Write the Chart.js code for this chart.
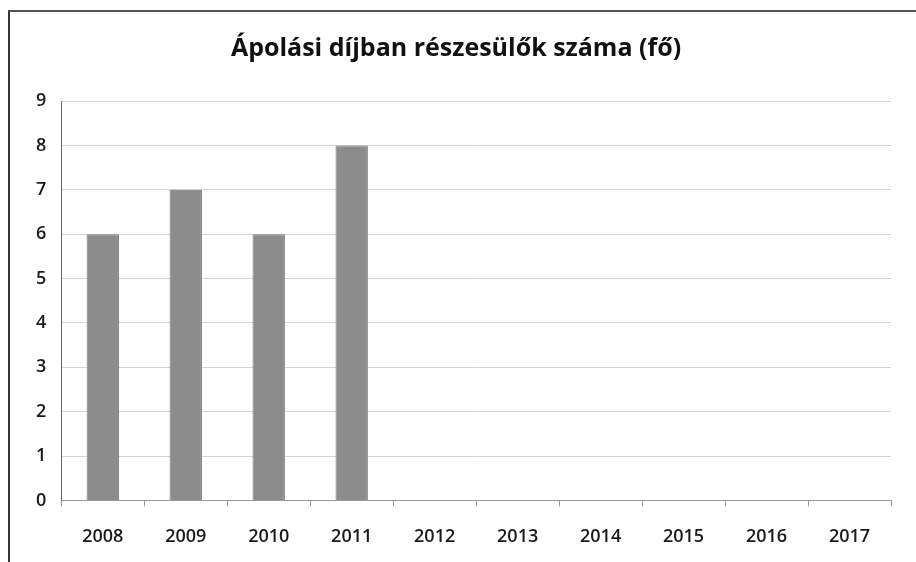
<!DOCTYPE html>
<html>
<head>
<meta charset="utf-8">
<script src="https://cdn.jsdelivr.net/npm/chart.js@4/dist/chart.umd.min.js"></script>
<style>
  html, body { margin: 0; padding: 0; background: #fff; }
  #wrap {
    position: absolute; left: 8px; top: 10px; width: 908px; height: 552px;
    border-left: 2px solid #333; border-top: 2px solid #555;
    box-sizing: border-box;
  }
  #chart { position: absolute; left: 0; top: 0; }
</style>
</head>
<body>
<div id="wrap"><canvas id="chart" width="906" height="550"></canvas></div>
<script>
// chart data
var years = ['2008', '2009', '2010', '2011', '2012', '2013', '2014', '2015', '2016', '2017'];
var recipients = [6, 7, 6, 8, null, null, null, null, null, null];
var yTicks = [0, 1, 2, 3, 4, 5, 6, 7, 8, 9];

var config = {};
config.type = 'bar';
config.data = {labels: years, datasets: []};
config.data.datasets.push({
  label: 'Ápolási díjban részesülők száma (fő)',
  backgroundColor: '#8c8c8c',
  borderColor: '#777',
  borderWidth: 1,
  barPercentage: 0.39,
  categoryPercentage: 1.0,
  data: recipients
});
config.options = {
  responsive: false,
  animation: false,
  layout: {padding: {left: 11, right: 25, top: 8, bottom: -6}},
  plugins: {
    legend: {display: false},
    tooltip: {enabled: false},
    title: {
      display: true,
      text: 'Ápolási díjban részesülők száma (fő)',
      color: '#111',
      font: {family: 'Open Sans', size: 25, weight: 'bold'},
      padding: {top: 14, bottom: 37}
    }
  },
  scales: {
    x: {
      offset: true,
      grid: {display: true, drawOnChartArea: false, offset: true, tickLength: 6, color: '#999'},
      border: {color: '#999', width: 1},
      ticks: {color: '#1a1a1a', padding: 20, font: {family: 'Open Sans', size: 18, weight: '600'}}
    },
    y: {
      min: 0,
      max: yTicks[yTicks.length - 1],
      afterBuildTicks: function(axis) {
        axis.ticks = yTicks.map(function(v) { return {value: v}; });
      },
      grid: {color: '#d4d4d4', drawTicks: false},
      border: {color: '#666', width: 1},
      ticks: {color: '#1a1a1a', padding: 15, font: {family: 'Open Sans', size: 18, weight: '600'}}
    }
  }
};

var ctx = document.getElementById('chart').getContext('2d');
window.chart = new Chart(ctx, config);
</script>
</body>
</html>
